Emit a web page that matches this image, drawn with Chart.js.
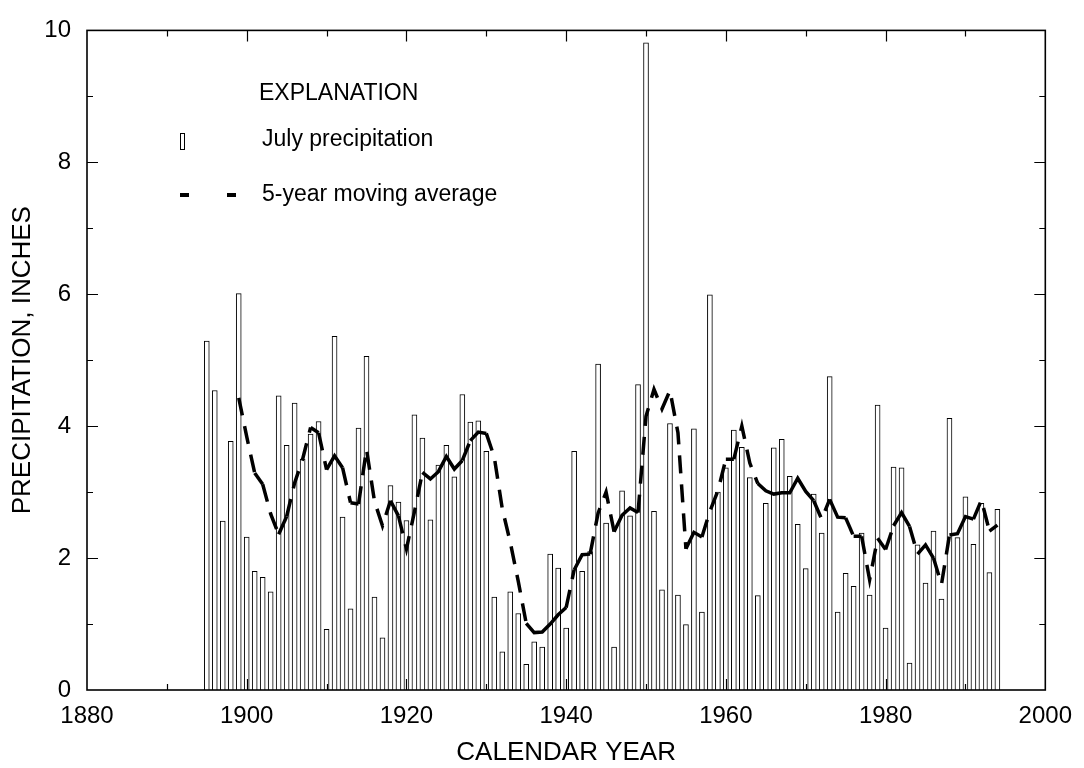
<!DOCTYPE html>
<html>
<head>
<meta charset="utf-8">
<script src="https://cdn.jsdelivr.net/npm/chart.js@4.4.1/dist/chart.umd.min.js"></script>
<style>
  html, body { margin: 0; padding: 0; background: #ffffff; }
  #wrap { width: 1084px; height: 768px; }
</style>
</head>
<body>
<div id="wrap"><canvas id="c" width="1084" height="768"></canvas></div>
<script>
const years = [
  1895,1896,1897,1898,1899,1900,1901,1902,1903,1904,
  1905,1906,1907,1908,1909,1910,1911,1912,1913,1914,
  1915,1916,1917,1918,1919,1920,1921,1922,1923,1924,
  1925,1926,1927,1928,1929,1930,1931,1932,1933,1934,
  1935,1936,1937,1938,1939,1940,1941,1942,1943,1944,
  1945,1946,1947,1948,1949,1950,1951,1952,1953,1954,
  1955,1956,1957,1958,1959,1960,1961,1962,1963,1964,
  1965,1966,1967,1968,1969,1970,1971,1972,1973,1974,
  1975,1976,1977,1978,1979,1980,1981,1982,1983,1984,
  1985,1986,1987,1988,1989,1990,1991,1992,1993,1994
];
const julyPrecip = [
  5.29,4.54,2.56,3.77,6.01,2.32,1.80,1.71,1.49,4.46,
  3.71,4.35,3.50,3.88,4.07,0.92,5.36,2.62,1.23,3.97,
  5.06,1.41,0.79,3.10,2.85,2.57,4.17,3.82,2.58,3.41,
  3.71,3.23,4.48,4.06,4.08,3.62,1.41,0.58,1.49,1.16,
  0.39,0.73,0.65,2.06,1.85,0.94,3.62,1.80,2.10,4.94,
  2.53,0.65,3.02,2.64,4.63,9.81,2.71,1.52,4.04,1.44,
  0.99,3.96,1.18,5.99,3.00,3.37,3.94,3.68,3.22,1.43,
  2.83,3.67,3.80,3.24,2.51,1.84,2.97,2.38,4.75,1.18,
  1.77,1.57,2.38,1.44,4.32,0.94,3.38,3.37,0.41,2.20,
  1.62,2.41,1.38,4.12,2.31,2.93,2.21,2.83,1.78,2.74
];
const movingAvg = [
  null,null,null,null,4.43,3.84,3.29,3.12,2.67,2.36,
  2.63,3.14,3.50,3.98,3.90,3.34,3.55,3.37,2.84,2.82,
  3.65,2.86,2.49,2.87,2.64,2.14,2.70,3.30,3.20,3.31,
  3.54,3.35,3.48,3.78,3.91,3.89,3.53,2.75,2.24,1.65,
  1.01,0.87,0.88,1.00,1.14,1.25,1.82,2.05,2.06,2.68,
  3.00,2.40,2.65,2.76,2.69,4.15,4.56,4.26,4.54,3.90,
  2.14,2.39,2.32,2.71,3.02,3.50,3.50,4.00,3.44,3.13,
  3.02,2.97,2.99,2.99,3.21,3.01,2.87,2.59,2.89,2.62,
  2.61,2.33,2.33,1.67,2.30,2.13,2.49,2.69,2.48,2.06,
  2.20,2.00,1.60,2.35,2.37,2.63,2.59,2.88,2.41,2.50
];
const xTickLabels = [1880, 1900, 1920, 1940, 1960, 1980, 2000];
const yTickLabels = [0, 2, 4, 6, 8, 10];
const legendTitle = 'EXPLANATION';
const legendBar = 'July precipitation';
const legendLine = '5-year moving average';

const FONT = '"Liberation Sans", Arial, Helvetica, sans-serif';

const barData = years.map((y, i) => ({ x: y, y: julyPrecip[i] }));
const lineData = years.map((y, i) => ({ x: y, y: movingAvg[i] })).filter(p => p.y !== null);

const framePlugin = {
  id: 'frame',
  afterDatasetsDraw(chart) {
    const { ctx, chartArea: a, scales: { x, y } } = chart;
    ctx.save();
    ctx.strokeStyle = '#000';
    ctx.lineWidth = 1.2;
    ctx.beginPath();
    for (let v = 1890; v < 2000; v += 10) {
      const px = Math.round(x.getPixelForValue(v)) + 0.5;
      const len = (v % 20 === 0) ? 11 : 6;
      ctx.moveTo(px, a.bottom); ctx.lineTo(px, a.bottom - len);
      ctx.moveTo(px, a.top); ctx.lineTo(px, a.top + len);
    }
    for (let v = 1; v < 10; v++) {
      const py = Math.round(y.getPixelForValue(v)) + 0.5;
      const len = (v % 2 === 0) ? 11 : 6;
      ctx.moveTo(a.left, py); ctx.lineTo(a.left + len, py);
      ctx.moveTo(a.right, py); ctx.lineTo(a.right - len, py);
    }
    ctx.stroke();
    ctx.lineWidth = 1.6;
    ctx.strokeRect(a.left, a.top, a.right - a.left, a.bottom - a.top);

    // legend (EXPLANATION)
    ctx.fillStyle = '#000';
    ctx.font = '23px ' + FONT;
    ctx.textBaseline = 'alphabetic';
    ctx.textAlign = 'left';
    ctx.fillText(legendTitle, 259, 100);
    ctx.fillText(legendBar, 262, 146);
    ctx.fillText(legendLine, 262, 201);
    ctx.lineWidth = 1;
    ctx.strokeRect(180.5, 133.5, 4, 16);
    ctx.lineWidth = 4;
    ctx.beginPath();
    ctx.moveTo(180, 195); ctx.lineTo(189, 195);
    ctx.moveTo(227, 195); ctx.lineTo(236, 195);
    ctx.stroke();
    ctx.restore();
  }
};

new Chart(document.getElementById('c'), {
  type: 'bar',
  data: {
    datasets: [
      {
        type: 'line',
        label: legendLine,
        data: lineData,
        order: 0,
        borderColor: '#000',
        borderWidth: 3.5,
        borderDash: [],
        borderJoinStyle: 'miter',
        borderCapStyle: 'butt',
        pointRadius: 0,
        tension: 0,
        fill: false,
        segment: {
          borderDash: ctx => {
            const dx = ctx.p1.x - ctx.p0.x, dy = ctx.p1.y - ctx.p0.y;
            return Math.hypot(dx, dy) > 20 ? [18, 11] : undefined;
          }
        }
      },
      {
        type: 'bar',
        label: legendBar,
        data: barData,
        order: 1,
        backgroundColor: '#ffffff',
        borderColor: '#000',
        borderWidth: 1,
        barThickness: 5,
        borderSkipped: 'start'
      }
    ]
  },
  options: {
    responsive: false,
    animation: false,
    devicePixelRatio: 1,
    layout: { padding: { top: 19, right: 37, left: 0, bottom: 0 } },
    plugins: { legend: { display: false }, tooltip: { enabled: false } },
    scales: {
      x: {
        type: 'linear',
        min: 1880, max: 2000,
        offset: false,
        grid: { display: false, offset: false, drawTicks: false },
        border: { display: false },
        afterFit: s => { s.height = 78; },
        afterBuildTicks: s => { s.ticks = xTickLabels.map(v => ({ value: v })); },
        ticks: {
          autoSkip: false,
          maxRotation: 0,
          padding: 12,
          color: '#000',
          font: { family: FONT, size: 24 },
          callback: v => String(v)
        },
        title: {
          display: true,
          text: 'CALENDAR YEAR',
          color: '#000',
          font: { family: FONT, size: 26 },
          padding: { top: 0, bottom: 0 }
        }
      },
      y: {
        min: 0, max: 10,
        grid: { display: false, drawTicks: false },
        border: { display: false },
        afterFit: s => { s.width = 87; },
        afterBuildTicks: s => { s.ticks = yTickLabels.map(v => ({ value: v })); },
        ticks: {
          autoSkip: false,
          padding: 16,
          color: '#000',
          font: { family: FONT, size: 24 },
          callback: v => String(v)
        },
        title: {
          display: true,
          text: 'PRECIPITATION, INCHES',
          color: '#000',
          font: { family: FONT, size: 26 },
          padding: { top: 7, bottom: 0 }
        }
      }
    }
  },
  plugins: [framePlugin]
});
</script>
</body>
</html>
